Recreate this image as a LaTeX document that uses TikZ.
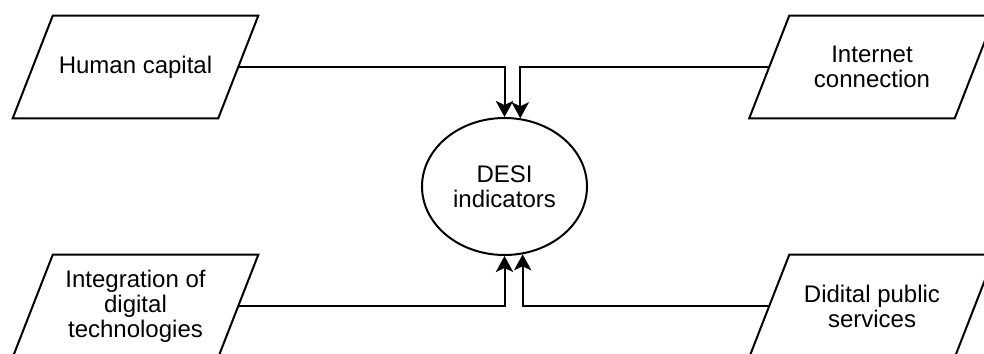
\documentclass[tikz,border=0pt]{standalone}
\usepackage{fontspec}
\setmainfont{Liberation Sans}
\usetikzlibrary{shapes.geometric,arrows.meta,calc}

\tikzset{
  % text area of a slanted input box; the outline is added by \inbox
  inlabel/.style={rectangle, inner sep=0pt, minimum width=153.75pt,
    minimum height=76.5pt, align=center,
    font=\fontsize{18}{18.8}\selectfont},
  outline/.style={draw=black, line width=1.5pt, line join=miter},
  hub/.style={ellipse, draw=black, line width=1.5pt, fill=white,
    inner sep=0pt, minimum width=123.75pt, minimum height=102.75pt,
    align=center, font=\fontsize{18}{18.8}\selectfont},
  tipshape/.tip={Stealth[length=12pt, width=13pt, inset=3pt]},
  feed/.style={draw=black, line width=1.5pt, -tipshape}
}

% parallelogram round a named text node, slanted by 20 units each side
\newcommand{\inbox}[1]{%
  \draw[outline] ([xshift=15pt]#1.north west) -- ([xshift=15pt]#1.north east)
    -- ([xshift=-15pt]#1.south east) -- ([xshift=-15pt]#1.south west) -- cycle;}

\begin{document}
\begin{tikzpicture}[x=0.75pt, y=-0.75pt]
  \useasboundingbox (0,0) rectangle (984,353);
  \clip (0,0) rectangle (984,353);

  \fill[white] (0,0) rectangle (984,353);

  \node[hub] (desi) at (504.5,186.5) {DESI\\indicators};

  \node[inlabel] (human) at (135.5,67) {Human capital};
  \node[inlabel] (inet)  at (872,67)   {Internet\\connection};
  \node[inlabel] (integ) at (135.5,306) {Integration of\\digital\\technologies};
  \node[inlabel] (pub)   at (872,306)  {Didital public\\services};

  \inbox{human}
  \inbox{inet}
  \inbox{integ}
  \inbox{pub}

  \draw[feed] (human.east) -| (desi.north);
  \draw[feed] (inet.west)  -| (desi.77);
  \draw[feed] (integ.east) -| (desi.south);
  \draw[feed] (pub.west)   -| (desi.-75);
\end{tikzpicture}
\end{document}
